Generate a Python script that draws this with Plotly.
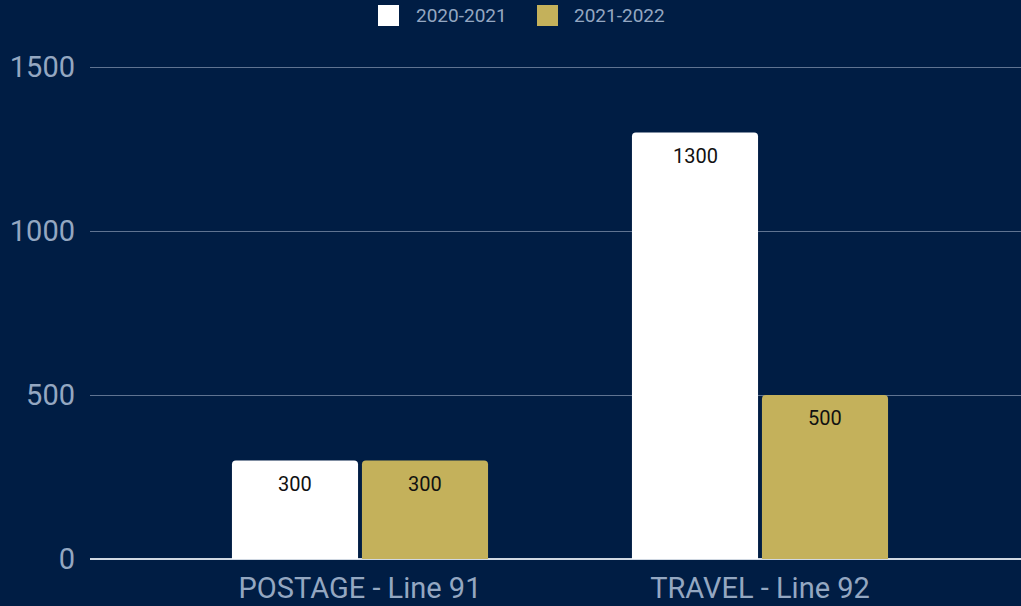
import plotly.graph_objects as go

categories = ["POSTAGE - Line 91", "TRAVEL - Line 92"]
series_names = ["2020-2021", "2021-2022"]
values_2020_2021 = [300, 1300]
values_2021_2022 = [300, 500]
y_ticks = [0, 500, 1000, 1500]

bg = "#001d44"
axis_text = "#94a7c1"
colors = ["#ffffff", "#c4b15b"]

# plot-area geometry (pixels)
L, T, B, W, H = 90, 60, 47, 1021, 606
PW, PH = W - L, H - T - B

def px_x(p):
    return (p - L) / PW

def px_y(p):
    return (H - B - p) / PH

fig = go.Figure()
all_vals = [values_2020_2021, values_2021_2022]
for name, vals, color in zip(series_names, all_vals, colors):
    fig.add_trace(go.Bar(
        name=name, x=categories, y=vals, marker_color=color,
        marker_line_width=0, showlegend=False, hoverinfo="skip",
    ))

# value labels (below bar top, inside bars)
shifts = [-65, 65]
for vals, sh in zip(all_vals, shifts):
    for c, v in zip(categories, vals):
        fig.add_annotation(x=c, y=v, xref="x", yref="y", text=str(v),
                           showarrow=False, xshift=sh, yshift=-23,
                           yanchor="middle",
                           font=dict(family="Roboto", size=20, color="#111111"))

# custom legend
legend_boxes = [(378, 399), (537, 558)]
legend_text_x = [414, 572]
for name, color, (x0, x1), tx in zip(series_names, colors, legend_boxes, legend_text_x):
    fig.add_shape(type="rect", xref="paper", yref="paper",
                  x0=px_x(x0), x1=px_x(x1), y0=px_y(26), y1=px_y(5),
                  fillcolor=color, line_width=0)
    fig.add_annotation(xref="paper", yref="paper", x=px_x(tx), y=px_y(16),
                       xanchor="left", yanchor="middle", showarrow=False,
                       text=name, font=dict(family="Roboto", size=19, color=axis_text))

fig.update_layout(
    width=W, height=H,
    paper_bgcolor=bg, plot_bgcolor=bg,
    margin=dict(l=L, r=0, t=T, b=B),
    barmode="group", bargap=0.35, bargroupgap=0.03,
    barcornerradius=4,
    font=dict(family="Roboto", color=axis_text),
    showlegend=False,
)
fig.update_xaxes(range=[-0.675, 1.6525], showgrid=False, automargin=False,
                 tickfont=dict(size=29, color=axis_text),
                 showline=False, ticks="", ticklabelstandoff=9)
fig.update_yaxes(range=[0, 1500 * PH / 492], tickvals=y_ticks, showgrid=True,
                 automargin=False,
                 gridcolor="#5f7391", gridwidth=1,
                 zeroline=True, zerolinecolor="#d0d8e2", zerolinewidth=2,
                 tickfont=dict(size=29, color=axis_text), ticklabelstandoff=14)

fig.write_html("out.html", config={"displayModeBar": False},
               post_script="document.body.style.margin='0';document.body.style.background='#001d44';")
